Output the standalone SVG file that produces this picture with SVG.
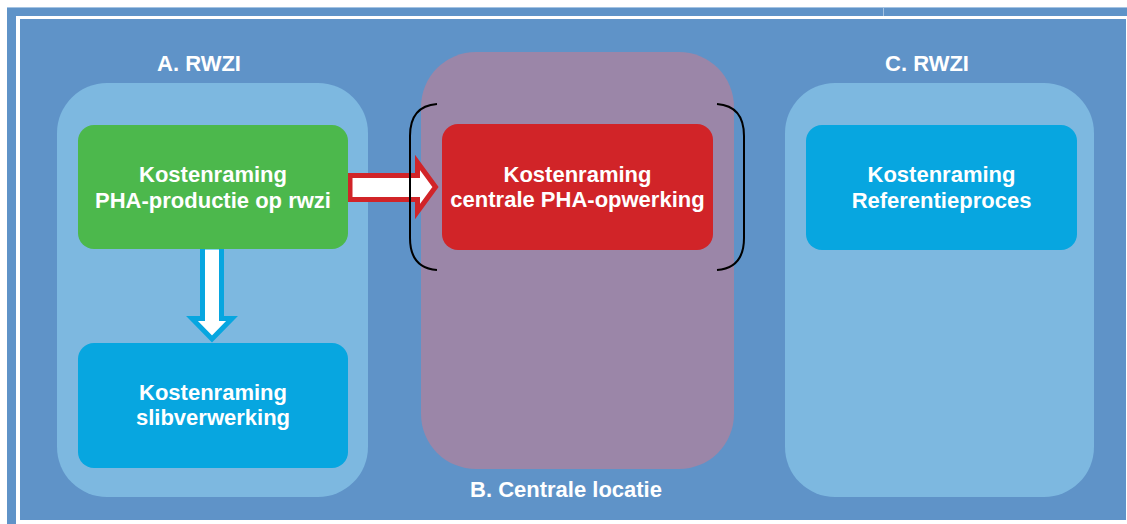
<svg xmlns="http://www.w3.org/2000/svg" width="1127" height="524" viewBox="0 0 1127 524">
  <style>
    .panel { fill: #7db8e0; }
    .title { font-family: "Liberation Sans", Arial, sans-serif; font-weight: bold; font-size: 22px; fill: #ffffff; text-anchor: middle; }
    .label { font-family: "Liberation Sans", Arial, sans-serif; font-weight: bold; font-size: 22px; fill: #ffffff; text-anchor: middle; }
    .bracket { fill: none; stroke: #000000; stroke-width: 2; }
  </style>

  <!-- page background and frame -->
  <rect x="0" y="0" width="1127" height="524" fill="#ffffff"/>
  <rect x="7" y="7" width="1120" height="517" fill="#5f93c8"/>
  <rect x="7" y="7" width="1120" height="1" fill="#a4c3e2"/>
  <rect x="883" y="7" width="1" height="9" fill="#a4c3e2"/>
  <rect x="16" y="16" width="1111" height="508" fill="#ffffff"/>
  <rect x="20" y="19" width="1106" height="501" fill="#5f93c8"/>

  <!-- location panels -->
  <g id="panel-a">
    <rect class="panel" x="57" y="83" width="311" height="414" rx="50" ry="50"/>
    <text class="title" x="199" y="71">A. RWZI</text>
  </g>
  <g id="panel-b">
    <rect x="421" y="52" width="313" height="417" rx="55" ry="55" fill="#9b86a8"/>
    <text class="title" x="566" y="497" font-size="21">B. Centrale locatie</text>
  </g>
  <g id="panel-c">
    <rect class="panel" x="785" y="83" width="309" height="414" rx="50" ry="50"/>
    <text class="title" x="927" y="71">C. RWZI</text>
  </g>

  <!-- connectors -->
  <g id="connectors">
    <polygon points="350,175.5 417.5,175.5 417.5,162.5 435.5,187 417.5,211.5 417.5,199.5 350,199.5"
             fill="#ffffff" stroke="#d12428" stroke-width="5" stroke-linejoin="miter"/>
    <polygon points="202.5,247 221.5,247 221.5,318.5 232,318.5 212,339 192,318.5 202.5,318.5"
             fill="#ffffff" stroke="#07a6e0" stroke-width="5" stroke-linejoin="miter"/>
  </g>

  <!-- cost estimate nodes -->
  <g id="node-pha-productie">
    <rect x="78" y="125" width="270" height="124" rx="16" ry="16" fill="#4cb84c"/>
    <text class="label" x="213" y="182">Kostenraming</text>
    <text class="label" x="213" y="208">PHA-productie op rwzi</text>
  </g>
  <g id="node-slibverwerking">
    <rect x="78" y="343" width="270" height="125" rx="16" ry="16" fill="#07a6e0"/>
    <text class="label" x="213" y="400">Kostenraming</text>
    <text class="label" x="213" y="425">slibverwerking</text>
  </g>
  <g id="node-pha-opwerking">
    <rect x="442" y="124" width="271" height="126" rx="16" ry="16" fill="#d12428"/>
    <text class="label" x="577.5" y="182">Kostenraming</text>
    <text class="label" x="577.5" y="207">centrale PHA-opwerking</text>
    <path class="bracket" d="M437,104 Q410,106 410,136 L410,238 Q410,268 437,270"/>
    <path class="bracket" d="M717,104 Q744,106 744,136 L744,238 Q744,268 717,270"/>
  </g>
  <g id="node-referentieproces">
    <rect x="806" y="125" width="271" height="125" rx="16" ry="16" fill="#07a6e0"/>
    <text class="label" x="941.5" y="182">Kostenraming</text>
    <text class="label" x="941.5" y="208">Referentieproces</text>
  </g>
</svg>
